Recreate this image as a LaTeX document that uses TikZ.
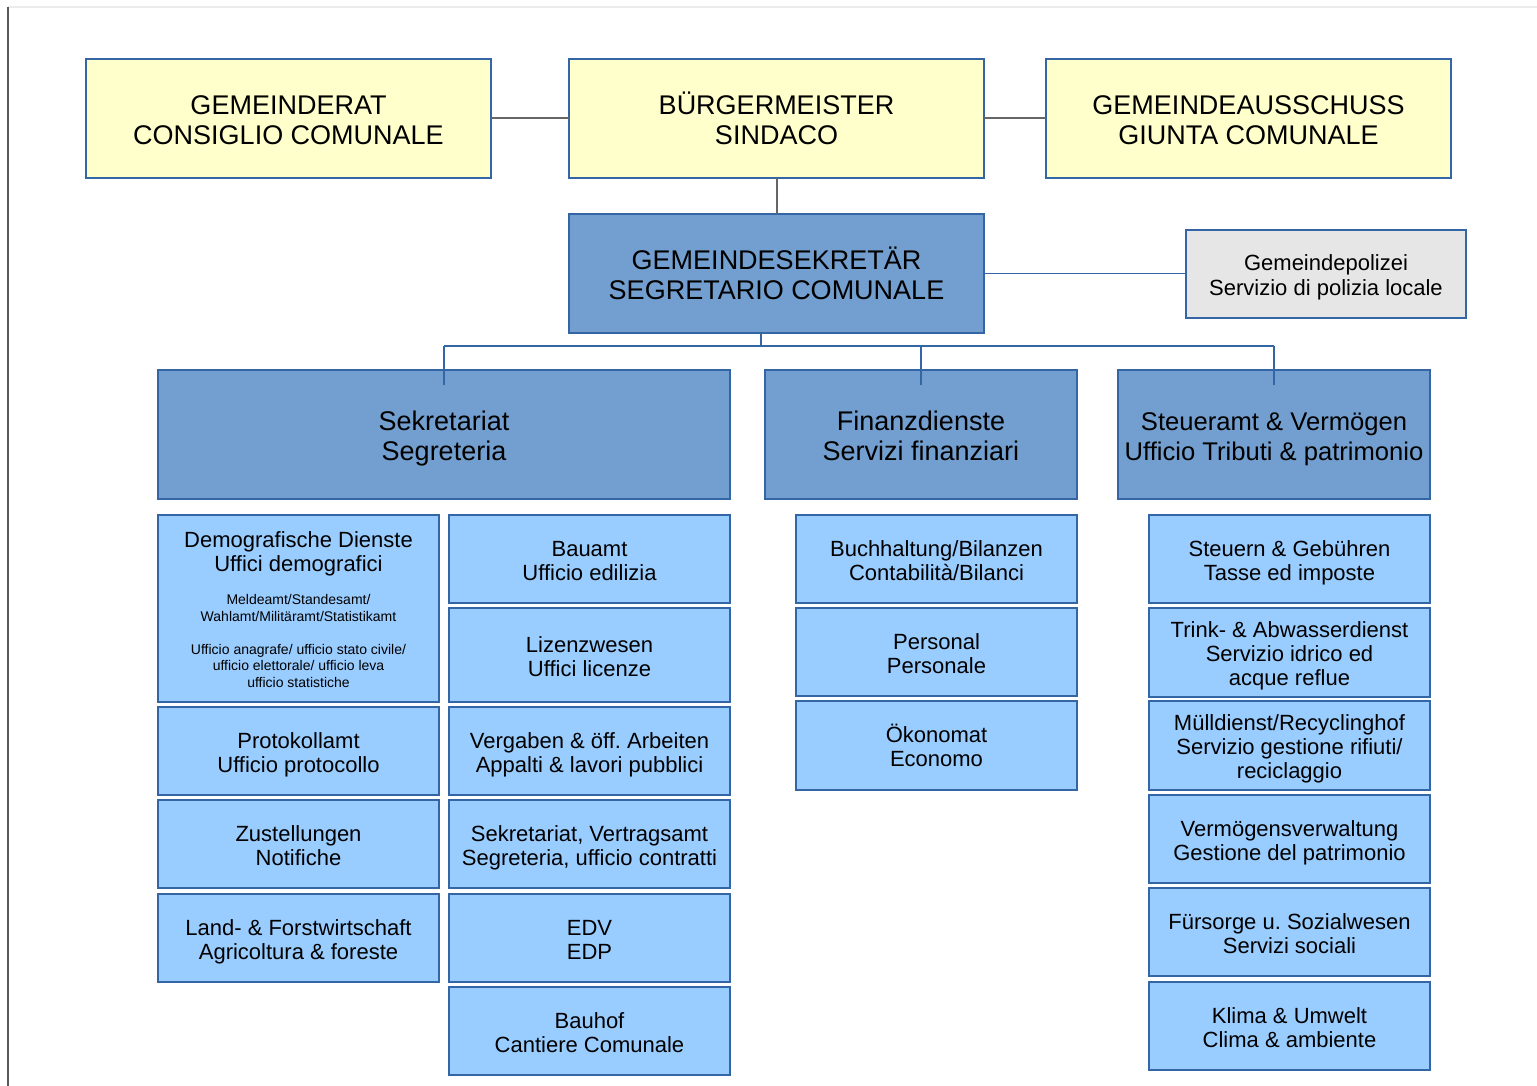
\documentclass[tikz,border=0pt]{standalone}
\usepackage{fontspec}
\setmainfont{Liberation Sans}
\frenchspacing
\definecolor{bordc}{HTML}{3465A4}
\definecolor{yelc}{HTML}{FFFFCC}
\definecolor{darkbc}{HTML}{729FCF}
\definecolor{lightbc}{HTML}{99CCFF}
\definecolor{grayc}{HTML}{E6E6E6}
\definecolor{topline}{HTML}{666666}
\newcommand\strutTop{\vrule height 1.05em depth 0pt width 0pt}
\newcommand\strutBot{\vrule height 0pt depth 0.21em width 0pt}
\newcommand\tx[1]{\strutTop#1\strutBot}
\begin{document}
\begin{tikzpicture}[x=1pt,y=-1pt,
  basebox/.style={draw=bordc,line width=1.2pt,rectangle,inner sep=0pt,outer sep=0pt,text=black,align=center},
  ybox/.style={basebox,fill=yelc,minimum width=#1,minimum height=119pt,font=\fontsize{27}{30}\selectfont},
  secbox/.style={basebox,fill=darkbc,font=\fontsize{27}{30}\selectfont},
  subbox/.style={basebox,fill=lightbc,minimum width=281pt,font=\fontsize{22}{24}\selectfont},
  polbox/.style={basebox,fill=grayc,font=\fontsize{22}{25}\selectfont},
  tline/.style={draw=topline,line width=2pt},
  bline/.style={draw=bordc,line width=1.5pt},
  plaintxt/.style={align=center,inner sep=0pt},
  smalltxt/.style={plaintxt,font=\fontsize{14}{16.5}\selectfont}
]
\useasboundingbox (0,0) rectangle (1537,1086);
\fill[white] (0,0) rectangle (1537,1086);
% page edges
\draw[draw=black!8,line width=1.5pt] (8,7) -- (1537,7);
\draw[draw=black!65,line width=2pt] (7.5,7) -- (7.5,1086);

% top row
\node[ybox=405pt] (gr) at (288.5,118.5) {\tx{GEMEINDERAT\\CONSIGLIO COMUNALE}};
\node[ybox=415pt] (bm) at (776.5,118.5) {\tx{BÜRGERMEISTER\\SINDACO}};
\node[ybox=405pt] (ga) at (1248.5,118.5) {\tx{GEMEINDEAUSSCHUSS\\GIUNTA COMUNALE}};

% secretary
\node[secbox,minimum width=415pt,minimum height=119pt] (gs) at (776.5,273.5) {\tx{GEMEINDESEKRETÄR\\SEGRETARIO COMUNALE}};
\node[polbox,minimum width=280pt,minimum height=88pt] (pol) at (1326,274) {\tx{Gemeindepolizei\\Servizio di polizia locale}};

% departments
\node[secbox,minimum width=572pt,minimum height=129pt] (sek) at (444,434.5) {\tx{Sekretariat\\Segreteria}};
\node[secbox,minimum width=312pt,minimum height=129pt] (fin) at (921,434.5) {\tx{Finanzdienste\\Servizi finanziari}};
\node[secbox,minimum width=312pt,minimum height=129pt,font=\fontsize{25.6}{30}\selectfont] (st) at (1274,434.5) {\tx{Steueramt \& Vermögen\\Ufficio Tributi \& patrimonio}};

% column A
\node[subbox,minimum height=187pt] (demo) at (298.5,608.5) {};
\node[plaintxt,font=\fontsize{22}{24}\selectfont] (demot) at (298.5,550) {\tx{Demografische Dienste\\Uffici demografici}};
\node[smalltxt] (demos1) at (298.5,607) {\tx{Meldeamt/Standesamt/\\Wahlamt/Militäramt/Statistikamt}};
\node[smalltxt] (demos2) at (298.5,665) {\tx{Ufficio anagrafe/ ufficio stato civile/\\ufficio elettorale/ ufficio leva\\ufficio statistiche}};
\node[subbox,minimum height=88pt] (proto) at (298.5,751) {\tx{Protokollamt\\Ufficio protocollo}};
\node[subbox,minimum height=88pt] (zust) at (298.5,844) {\tx{Zustellungen\\Notifiche}};
\node[subbox,minimum height=88pt] (land) at (298.5,938) {\tx{Land- \& Forstwirtschaft\\Agricoltura \& foreste}};

% column B
\node[subbox,minimum height=88pt] (bau) at (589.5,559) {\tx{Bauamt\\Ufficio edilizia}};
\node[subbox,minimum height=94pt] (liz) at (589.5,655) {\tx{Lizenzwesen\\Uffici licenze}};
\node[subbox,minimum height=88pt] (verg) at (589.5,751) {\tx{Vergaben \& öff. Arbeiten\\Appalti \& lavori pubblici}};
\node[subbox,minimum height=88pt] (sekv) at (589.5,844) {\tx{Sekretariat, Vertragsamt\\Segreteria, ufficio contratti}};
\node[subbox,minimum height=88pt] (edv) at (589.5,938) {\tx{EDV\\EDP}};
\node[subbox,minimum height=88pt] (bauhof) at (589.5,1031) {\tx{Bauhof\\Cantiere Comunale}};

% column C
\node[subbox,minimum height=88pt] (buch) at (936.5,559) {\tx{Buchhaltung/Bilanzen\\Contabilità/Bilanci}};
\node[subbox,minimum height=88pt] (pers) at (936.5,652) {\tx{Personal\\Personale}};
\node[subbox,minimum height=89pt] (oko) at (936.5,745.5) {\tx{Ökonomat\\Economo}};

% column D
\node[subbox,minimum height=88pt] (steu) at (1289.5,559) {\tx{Steuern \& Gebühren\\Tasse ed imposte}};
\node[subbox,minimum height=89pt] (trink) at (1289.5,652.5) {\tx{Trink- \& Abwasserdienst\\Servizio idrico ed\\acque reflue}};
\node[subbox,minimum height=89pt] (mull) at (1289.5,745.5) {\tx{Mülldienst/Recyclinghof\\Servizio gestione rifiuti/\\reciclaggio}};
\node[subbox,minimum height=88pt] (verm) at (1289.5,839) {\tx{Vermögensverwaltung\\Gestione del patrimonio}};
\node[subbox,minimum height=88pt] (furs) at (1289.5,932) {\tx{Fürsorge u. Sozialwesen\\Servizi sociali}};
\node[subbox,minimum height=88pt] (klima) at (1289.5,1026) {\tx{Klima \& Umwelt\\Clima \& ambiente}};

% connectors top
\draw[tline] (gr.east) -- (bm.west);
\draw[tline] (bm.east) -- (ga.west);
\draw[tline] (bm.south) -- (gs.north);
\draw[bline] (gs.east) -- (gs.east -| pol.west);

% bus
\coordinate (bus) at (761,346);
\draw[bline] (gs.south -| bus) -- (bus);
\draw[bline] (sek.north |- bus) -- (st.north |- bus);
\draw[bline] (sek.north |- bus) -- ([yshift=-15pt]sek.north);
\draw[bline] (fin.north |- bus) -- ([yshift=-15pt]fin.north);
\draw[bline] (st.north |- bus) -- ([yshift=-15pt]st.north);
\end{tikzpicture}
\end{document}
